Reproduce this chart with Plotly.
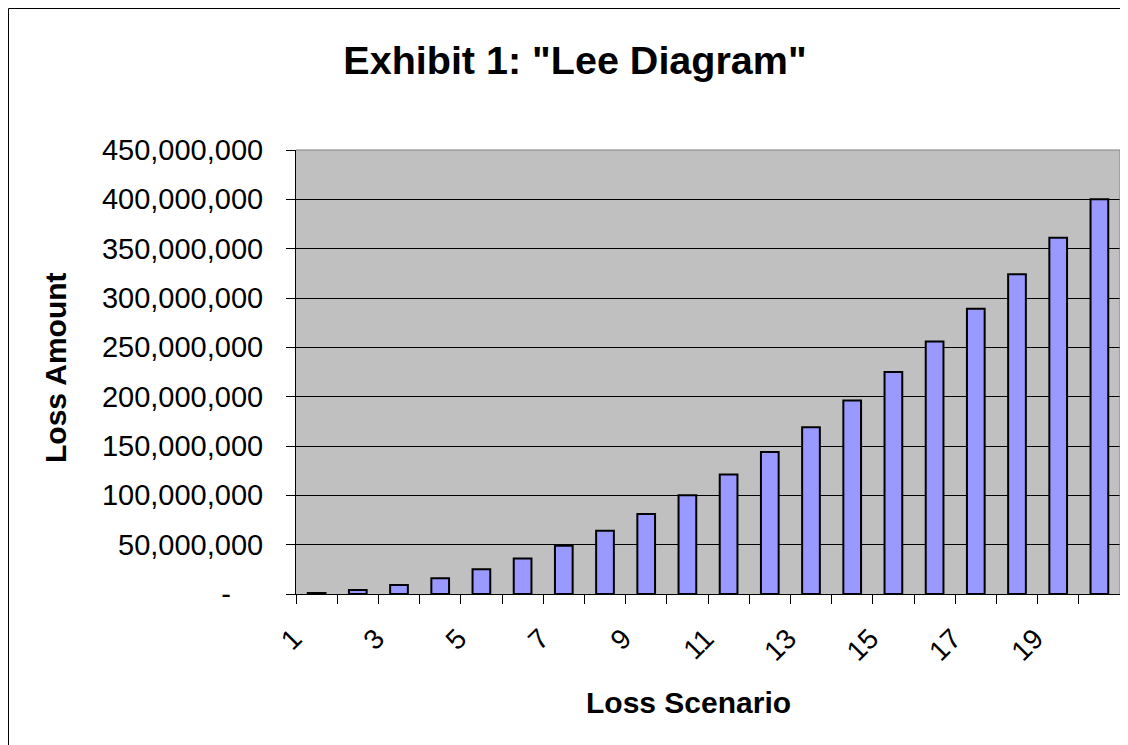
import plotly.graph_objects as go

scenarios = [str(i) for i in range(1, 21)]
loss_amounts = [1_000_000, 4_000_000, 9_000_000, 16_000_000, 25_000_000,
                36_000_000, 49_000_000, 64_000_000, 81_000_000, 100_000_000,
                121_000_000, 144_000_000, 169_000_000, 196_000_000, 225_000_000,
                256_000_000, 289_000_000, 324_000_000, 361_000_000, 400_000_000]
x_tick_labels = [s if i % 2 == 0 else "" for i, s in enumerate(scenarios)]
y_tick_vals = [0, 50e6, 100e6, 150e6, 200e6, 250e6, 300e6, 350e6, 400e6, 450e6]
y_tick_labels = ["-\u00a0\u00a0\u00a0\u00a0", "50,000,000", "100,000,000", "150,000,000",
                 "200,000,000", "250,000,000", "300,000,000", "350,000,000",
                 "400,000,000", "450,000,000"]

# page body has an 8px margin, so figure coords = screen coords - 8
W, H = 1120, 737
L, R, T, B = 288, 1112, 142, 586
FONT = "Liberation Sans, Arial, sans-serif"

fig = go.Figure()
fig.add_trace(go.Bar(
    x=scenarios, y=loss_amounts,
    marker=dict(color="#9999FF", line=dict(color="black", width=2)),
))

fig.update_layout(
    width=W, height=H,
    margin=dict(l=L, r=W - R, t=T, b=H - B, pad=0),
    paper_bgcolor="white", plot_bgcolor="#C0C0C0",
    bargap=0.57,
    showlegend=False,
    font=dict(family=FONT, color="black", size=29),
    title=dict(text='<b>Exhibit 1: "Lee Diagram"</b>', x=567 / W, xanchor="center",
               y=1 - 52 / H, yanchor="middle", font=dict(size=39.5, family=FONT)),
    xaxis=dict(
        type="category", tickvals=scenarios, ticktext=x_tick_labels,
        tickson="boundaries", ticks="outside", ticklen=9, tickcolor="black",
        tickwidth=1, tickangle=-45, showline=True, linecolor="black",
        linewidth=1, showgrid=False, ticklabelstandoff=16, ticklabelshift=-23,
        tickfont=dict(size=28),
    ),
    yaxis=dict(
        range=[0, 450e6], tickvals=y_tick_vals, ticktext=y_tick_labels,
        ticks="outside", ticklen=9, tickcolor="black", tickwidth=1,
        showline=True, linecolor="black", linewidth=1,
        showgrid=True, gridcolor="black", gridwidth=1,
        zeroline=False, ticklabelstandoff=17, tickfont=dict(size=29),
    ),
    annotations=[
        dict(text="<b>Loss Amount</b>", xref="paper", yref="paper",
             x=(47 - L) / (R - L), y=(B - 360) / (B - T), textangle=-90,
             showarrow=False, font=dict(size=30, family=FONT),
             xanchor="center", yanchor="middle"),
        dict(text="<b>Loss Scenario</b>", xref="paper", yref="paper",
             x=(680 - L) / (R - L), y=(B - 694) / (B - T),
             showarrow=False, font=dict(size=30, family=FONT),
             xanchor="center", yanchor="middle"),
    ],
    shapes=[
        # top/right grey plot border
        dict(type="line", xref="paper", yref="paper", x0=0, x1=1, y0=1, y1=1,
             line=dict(color="#808080", width=1)),
        dict(type="line", xref="paper", yref="paper", x0=1, x1=1, y0=0, y1=1,
             line=dict(color="#808080", width=1)),
        # outer chart frame (left and top edges; the rest lies outside the view)
        dict(type="line", xref="paper", yref="paper",
             x0=(0.5 - L) / (R - L), x1=(0.5 - L) / (R - L),
             y0=-0.5, y1=1 + (T - 0.5) / (B - T),
             line=dict(color="black", width=1)),
        dict(type="line", xref="paper", yref="paper",
             x0=(0.5 - L) / (R - L), x1=1.2,
             y0=1 + (T - 0.5) / (B - T), y1=1 + (T - 0.5) / (B - T),
             line=dict(color="black", width=1)),
    ],
)

fig.write_html("out.html", config={"displayModeBar": False})
